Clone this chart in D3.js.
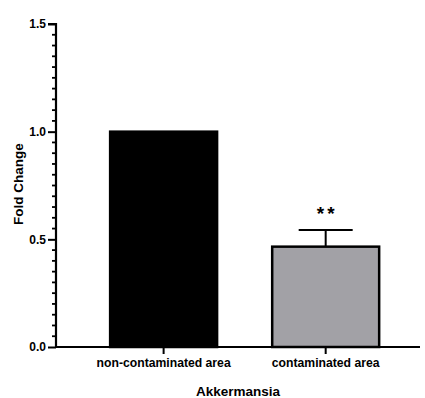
<!DOCTYPE html>
<html>
<head>
<meta charset="utf-8">
<script src="https://cdn.jsdelivr.net/npm/d3@7"></script>
<style>
  body { margin: 0; background: white; }
  text { font-family: "Liberation Sans", Arial, sans-serif; font-weight: bold; fill: #000; }
</style>
</head>
<body>
<svg id="chart" width="425" height="398"></svg>
<script>
// data
const groups = ["non-contaminated area", "contaminated area"];
const foldChange = [1.0, 0.466];
const errUp = [0, 0.077];
const barColors = ["#000000", "#a2a1a6"];
const sigMarks = ["", "**"];
const yTicks = [0, 0.5, 1.0, 1.5];

const svg = d3.select("#chart");
const x0 = 56, x1 = 420, yBase = 347, yTop = 24;

const y = d3.scaleLinear().domain([0, 1.5]).range([yBase, yTop]);
const x = d3.scaleBand().domain(groups).range([x0, x1])
  .paddingInner(0.34).paddingOuter(0.293).align(0.57);

// bars
svg.selectAll("rect.bar").data(groups).enter().append("rect")
  .attr("class", "bar")
  .attr("x", d => x(d))
  .attr("y", (d, i) => y(foldChange[i]))
  .attr("width", x.bandwidth())
  .attr("height", (d, i) => yBase - y(foldChange[i]))
  .attr("fill", (d, i) => barColors[i])
  .attr("stroke", "#000")
  .attr("stroke-width", 2.5);

// error bars (upper only)
const cx = d => x(d) + x.bandwidth() / 2;
groups.forEach((g, i) => {
  if (!errUp[i]) return;
  const top = y(foldChange[i] + errUp[i]);
  svg.append("line").attr("x1", cx(g)).attr("x2", cx(g))
    .attr("y1", y(foldChange[i])).attr("y2", top)
    .attr("stroke", "#000").attr("stroke-width", 2);
  svg.append("line").attr("x1", cx(g) - 27).attr("x2", cx(g) + 27)
    .attr("y1", top).attr("y2", top)
    .attr("stroke", "#000").attr("stroke-width", 2);
  // stars
  svg.append("text").attr("x", cx(g) + 1.5).attr("y", top - 10)
    .attr("text-anchor", "middle").style("font-size", "19px")
    .style("letter-spacing", "3px")
    .text(sigMarks[i]);
});

// y axis
const yAxis = d3.axisLeft(y).tickValues(yTicks).tickFormat(d3.format(".1f")).tickSize(8).tickPadding(2);
const gy = svg.append("g").attr("transform", `translate(${x0},0)`).call(yAxis);
gy.select(".domain").attr("stroke-width", 2.2).attr("d", `M-8,${yTop}H0V${yBase}`);
gy.selectAll(".tick line").attr("stroke-width", 2);
gy.selectAll(".tick text").style("font-size", "12px").style("font-family", "Liberation Sans, Arial, sans-serif");

// minor ticks
const minor = d3.range(0, 1.5001, 0.05).filter(v => Math.abs(v * 2 - Math.round(v * 2)) > 1e-6);
svg.append("g").selectAll("line").data(minor).enter().append("line")
  .attr("x1", x0 - 4).attr("x2", x0)
  .attr("y1", d => y(d)).attr("y2", d => y(d))
  .attr("stroke", "#000").attr("stroke-width", 1.8);

// x axis
const xAxis = d3.axisBottom(x).tickSize(7).tickPadding(4);
const gx = svg.append("g").attr("transform", `translate(0,${yBase})`).call(xAxis);
gx.select(".domain").attr("stroke-width", 2.2).attr("d", `M${x0},0H${x1}`);
gx.selectAll(".tick line").attr("stroke-width", 2);
gx.selectAll(".tick text").style("font-size", "12.2px").style("font-family", "Liberation Sans, Arial, sans-serif");

// titles
svg.append("text").attr("x", 238).attr("y", 396).attr("text-anchor", "middle")
  .style("font-size", "13.5px").text("Akkermansia");
svg.append("text").attr("transform", "translate(23,184) rotate(-90)")
  .attr("text-anchor", "middle").style("font-size", "13.5px").text("Fold Change");
</script>
</body>
</html>
